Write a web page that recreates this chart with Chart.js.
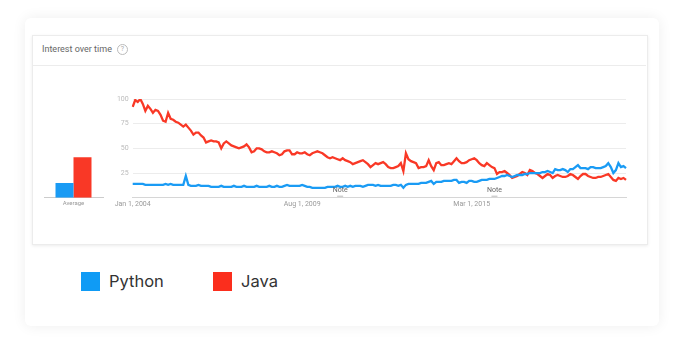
<!DOCTYPE html>
<html>
<head>
<meta charset="utf-8">
<script src="https://cdn.jsdelivr.net/npm/chart.js@4.4.1/dist/chart.umd.min.js"></script>
<style>
  html, body { margin: 0; padding: 0; background: #fff; }
  body { width: 684px; height: 354px; position: relative; overflow: hidden; font-family: Roboto, "Noto Sans", sans-serif; }
  .outer { position: absolute; left: 25px; top: 18px; width: 634px; height: 308px; background: #fff;
           border-radius: 6px; box-shadow: 0 0 14px rgba(0,0,0,0.07); }
  .inner { position: absolute; left: 32px; top: 35px; width: 614px; height: 208px; background: #fff;
           border: 1px solid #ececec; box-shadow: 0 1px 3px rgba(0,0,0,0.08); }
  .title { position: absolute; left: 42px; top: 44px; font-size: 9px; color: #666; }
  .help { position: absolute; left: 117px; top: 44px; width: 9px; height: 9px; border: 1px solid #bbb; border-radius: 50%;
          font-size: 7px; color: #aaa; text-align: center; line-height: 9px; }
  .sep { position: absolute; left: 33px; top: 65px; width: 613px; height: 1px; background: #ececec; }
  #avg { position: absolute; left: 40px; top: 85px; }
  #trend { position: absolute; left: 100px; top: 85px; }
  .legend { position: absolute; top: 272px; font-family: Inter, "Noto Sans", sans-serif; font-size: 16.5px; color: #333; }
  .legend span { position: absolute; left: 0; top: 0; width: 19px; height: 19px; }
  .legend b { position: absolute; left: 28px; top: 0; font-weight: 400; line-height: 19px; white-space: nowrap; }
</style>
</head>
<body>
<div class="outer"></div>
<div class="inner"></div>
<div class="title">Interest over time</div>
<div class="help">?</div>
<div class="sep"></div>
<canvas id="avg" width="68" height="125"></canvas>
<canvas id="trend" width="540" height="125"></canvas>
<div class="legend" style="left:81px"><span style="background:#0f9bf5"></span><b>Python</b></div>
<div class="legend" style="left:213px"><span style="background:#fb2e1d"></span><b>Java</b></div>

<script>
const seriesNames = ["Python", "Java"];
const averages = [15, 41];
const tickLabels = ["Jan 1, 2004", "Aug 1, 2009", "Mar 1, 2015"];
const noteMonths = ["Nov 1, 2010", "Dec 1, 2015"];

const python = [
  14,14,14,14,14,13,13,13,13,13, 13,13,13,14,13,14,13,13,13,13, 13,22,13,12,12,12,13,12,12,12, 12,11,
  11,11,11,12,11,11,11,11,12,11, 11,11,12,11,11,11,11,12,11,11, 11,11,12,11,11,12,11,11,12,13, 12,12,12,
  12,12,13,12,11,11,10,10,10,10, 10,10,11,11,11,11,12,11,11,12, 11,12,11,12,12,12,11,12,13,13, 13,12,13,
  12,12,12,12,12,13,13,12,13,10, 13,14,14,14,14,14,15,15,15,16, 17,14,16,16,16,17,17,17,17,18, 18,15,16,
  16,15,17,17,16,16,17,18,18,18, 19,19,19,20,21,22,22,23,22,21, 22,23,23,23,24,24,25,25,25,25, 25,26,26,
  27,26,25,29,28,28,29,28,26,29, 29,31,33,30,30,30,29,31,31,30, 30,30,31,32,35,31,25,28,35,31, 32,30
];
const java = [
  92,99,97,100,95,88,93,90,86,89, 88,84,78,77,86,80,79,77,76,74, 72,74,71,68,64,66,66,63,61,56, 57,58,
  57,57,56,50,55,57,55,53,52,51, 50,51,52,54,51,46,47,50,50,49, 47,46,46,47,46,45,43,44,47,48, 48,44,44,
  46,45,45,46,44,43,45,46,47,46, 45,43,41,40,41,40,39,38,40,38, 37,36,34,35,36,37,38,36,34,31, 33,35,34,
  35,36,34,31,30,30,31,32,35,27, 45,39,37,36,35,30,31,31,32,38, 32,28,35,36,33,33,34,35,34,37, 40,37,35,
  35,36,38,39,40,38,35,33,32,35, 33,31,30,24,26,26,27,25,23,20, 21,22,24,26,25,23,28,27,25,24, 22,20,22,
  24,23,20,22,23,22,21,21,22,24, 23,21,19,22,24,24,22,21,20,20, 21,21,22,23,24,21,18,17,20,19, 20,18
];

const monthNames = ["Jan","Feb","Mar","Apr","May","Jun","Jul","Aug","Sep","Oct","Nov","Dec"];
const months = [];
for (let i = 0; i < java.length; i++) {
  months.push(monthNames[i % 12] + " 1, " + (2004 + Math.floor(i / 12)));
}

const blue = "#1a9bf4";
const red = "#f93826";

// "Note" markers under the lines
const notePlugin = {
  id: "notes",
  afterDatasetsDraw(chart) {
    const ctx = chart.ctx;
    const x = chart.scales.x;
    const bottom = chart.chartArea.bottom;
    ctx.save();
    ctx.font = "7px Roboto, sans-serif";
    ctx.textAlign = "center";
    ctx.textBaseline = "middle";
    noteMonths.forEach(m => {
      const px = x.getPixelForValue(months.indexOf(m));
      ctx.fillStyle = "#666";
      ctx.fillText("Note", px, bottom - 7);
      ctx.fillStyle = "#bbb";
      ctx.fillRect(px - 3, bottom - 2, 6, 1);
    });
    ctx.restore();
  }
};

new Chart(document.getElementById("trend"), {
  type: "line",
  data: {
    labels: months,
    datasets: [
      { label: seriesNames[0], data: python, borderColor: blue, borderWidth: 2.3, pointRadius: 0, tension: 0 },
      { label: seriesNames[1], data: java, borderColor: red, borderWidth: 2.3, pointRadius: 0, tension: 0 },
    ],
  },
  options: {
    responsive: false,
    animation: false,
    layout: { padding: { top: 14, right: 14, left: 0, bottom: 0 } },
    scales: {
      x: {
        grid: { display: false, drawTicks: false },
        border: { color: "#d6d6d6" },
        afterFit: (s) => { s.height = 12.3; },
        ticks: {
          autoSkip: false,
          maxRotation: 0,
          padding: 2,
          color: "#999",
          font: { size: 7, family: "Roboto" },
          callback: (v) => tickLabels.includes(months[v]) ? months[v] : null,
        },
      },
      y: {
        min: 0,
        max: 100,
        afterFit: (s) => { s.width = 32.7; },
        grid: { color: "#ececec", drawTicks: false },
        border: { display: false },
        ticks: {
          stepSize: 25,
          padding: 4,
          color: "#bbb",
          font: { size: 7, family: "Roboto" },
          callback: (v) => v === 0 ? "" : v,
        },
      },
    },
    plugins: {
      legend: { display: false },
      tooltip: { enabled: false },
    },
  },
  plugins: [notePlugin],
});

new Chart(document.getElementById("avg"), {
  type: "bar",
  data: {
    labels: ["Average"],
    datasets: [
      { label: seriesNames[0], data: [averages[0]], backgroundColor: blue },
      { label: seriesNames[1], data: [averages[1]], backgroundColor: red },
    ],
  },
  options: {
    responsive: false,
    animation: false,
    layout: { padding: { top: 14, left: 4, right: 5, bottom: 0 } },
    datasets: { bar: { categoryPercentage: 0.61, barPercentage: 1 } },
    scales: {
      x: {
        grid: { display: false, drawTicks: false },
        border: { color: "#ccc" },
        afterFit: (s) => { s.height = 12.3; },
        ticks: { padding: 2, color: "#999", font: { size: 6, family: "Roboto" } },
      },
      y: { display: false, min: 0, max: 100 },
    },
    plugins: {
      legend: { display: false },
      tooltip: { enabled: false },
    },
  },
});
</script>
</body>
</html>
